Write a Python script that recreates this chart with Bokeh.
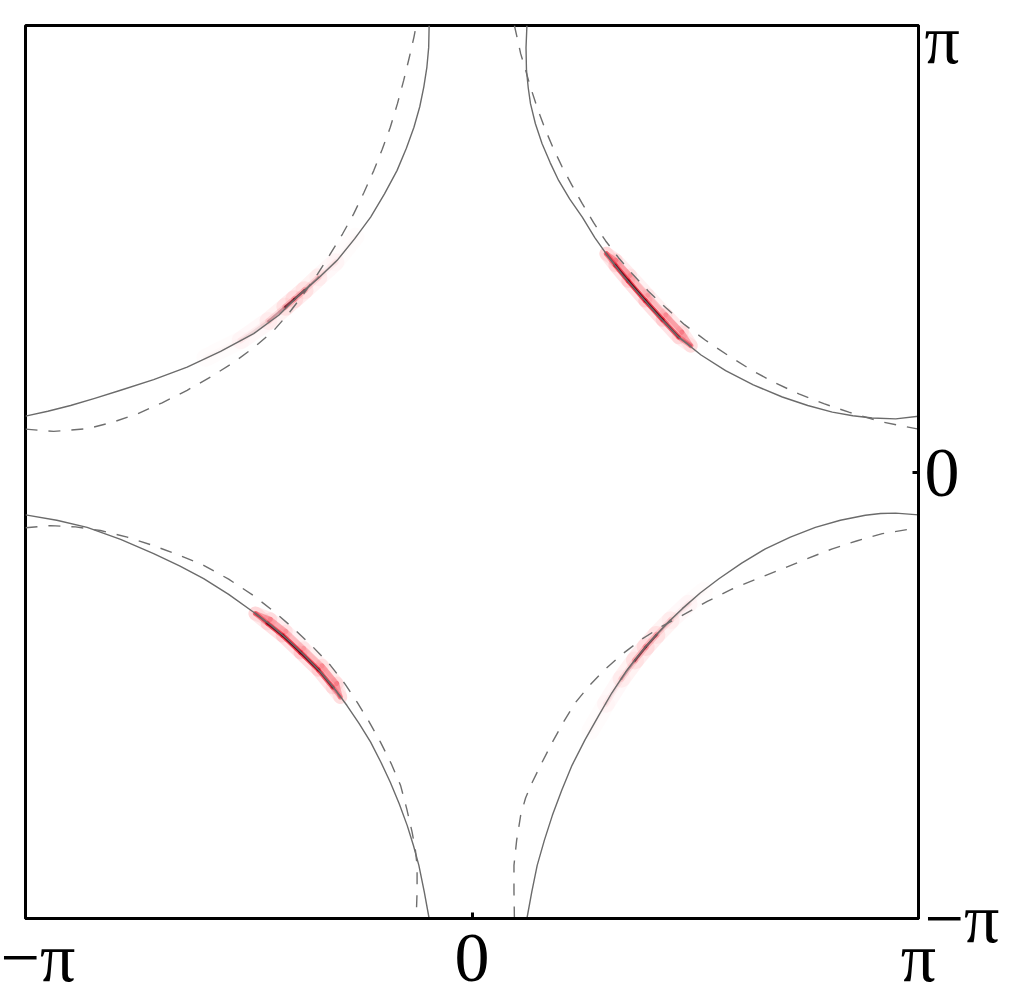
import numpy as np
from bokeh.plotting import figure
from bokeh.models import FixedTicker
from bokeh.embed import file_html
from bokeh.resources import INLINE

# all momenta in units of pi
tick_values = [-1, 0, 1]
tick_labels = ["\u2212\u03c0", "0", "\u03c0"]

# ---- solid Fermi-surface arcs ----
solid_ul_kx = [-1.000, -0.950, -0.899, -0.845, -0.787, -0.713, -0.638, -0.563, -0.489, -0.433, -0.384, -0.340,
               -0.302, -0.263, -0.227, -0.196, -0.168, -0.147, -0.130, -0.117, -0.108, -0.101, -0.097, -0.096]
solid_ul_ky = [0.125, 0.136, 0.149, 0.165, 0.183, 0.207, 0.235, 0.270, 0.310, 0.351, 0.399, 0.438,
               0.474, 0.522, 0.571, 0.623, 0.675, 0.725, 0.772, 0.818, 0.862, 0.907, 0.951, 1.000]

solid_ur_kx = [0.123, 0.121, 0.122, 0.126, 0.131, 0.142, 0.157, 0.175, 0.194, 0.219, 0.247, 0.275, 0.306,
               0.338, 0.374, 0.417, 0.463, 0.513, 0.568, 0.630, 0.695, 0.752, 0.807, 0.853, 0.896, 0.949, 1.000]
solid_ur_ky = [1.000, 0.950, 0.900, 0.860, 0.825, 0.780, 0.735, 0.693, 0.653, 0.611, 0.571, 0.525, 0.481,
               0.440, 0.399, 0.350, 0.302, 0.262, 0.227, 0.195, 0.168, 0.149, 0.134, 0.126, 0.121, 0.119, 0.125]

solid_ll_kx = [-1.000, -0.930, -0.862, -0.787, -0.713, -0.655, -0.601, -0.545, -0.489, -0.450, -0.414, -0.376, -0.339,
               -0.308, -0.280, -0.253, -0.227, -0.204, -0.183, -0.163, -0.145, -0.131, -0.119, -0.107, -0.096]
solid_ll_ky = [-0.096, -0.108, -0.124, -0.151, -0.183, -0.210, -0.239, -0.274, -0.314, -0.343, -0.374, -0.410, -0.448,
               -0.485, -0.523, -0.563, -0.605, -0.650, -0.695, -0.743, -0.792, -0.837, -0.881, -0.940, -1.000]

solid_lr_kx = [0.123, 0.134, 0.146, 0.162, 0.180, 0.201, 0.224, 0.253, 0.284, 0.313, 0.344, 0.374, 0.404,
               0.437, 0.471, 0.511, 0.553, 0.604, 0.657, 0.713, 0.769, 0.825, 0.881, 0.915, 0.949, 1.000]
solid_lr_ky = [-1.000, -0.940, -0.881, -0.825, -0.769, -0.713, -0.657, -0.600, -0.545, -0.495, -0.448, -0.409, -0.374,
               -0.339, -0.306, -0.271, -0.239, -0.204, -0.172, -0.146, -0.124, -0.108, -0.097, -0.093, -0.092, -0.096]

# ---- dashed arcs ----
dash_ul_kx = [-1.000, -0.937, -0.862, -0.806, -0.750, -0.694, -0.638, -0.585, -0.533, -0.487, -0.444, -0.409, -0.377,
              -0.346, -0.317, -0.290, -0.265, -0.242, -0.220, -0.201, -0.183, -0.167, -0.153, -0.141, -0.130, -0.125]
dash_ul_ky = [0.096, 0.091, 0.097, 0.111, 0.130, 0.155, 0.183, 0.213, 0.246, 0.280, 0.317, 0.357, 0.399,
              0.443, 0.489, 0.533, 0.578, 0.626, 0.675, 0.723, 0.772, 0.825, 0.877, 0.926, 0.974, 1.000]

dash_ur_kx = [0.095, 0.109, 0.120, 0.131, 0.147, 0.165, 0.183, 0.202, 0.224, 0.247, 0.272, 0.299, 0.328,
              0.359, 0.395, 0.433, 0.476, 0.523, 0.575, 0.628, 0.680, 0.732, 0.788, 0.844, 0.919, 1.000]
dash_ur_ky = [1.000, 0.937, 0.900, 0.862, 0.813, 0.765, 0.723, 0.683, 0.642, 0.601, 0.559, 0.518, 0.480,
              0.444, 0.405, 0.369, 0.330, 0.295, 0.260, 0.227, 0.199, 0.175, 0.153, 0.134, 0.112, 0.096]

dash_ll_kx = [-1.000, -0.944, -0.888, -0.832, -0.772, -0.713, -0.657, -0.601, -0.545, -0.489, -0.443, -0.399, -0.357,
              -0.317, -0.285, -0.257, -0.230, -0.205, -0.181, -0.160, -0.146, -0.134, -0.127, -0.123, -0.123, -0.125]
dash_ll_ky = [-0.125, -0.120, -0.123, -0.131, -0.146, -0.165, -0.186, -0.209, -0.240, -0.277, -0.313, -0.351, -0.391,
              -0.433, -0.474, -0.516, -0.560, -0.605, -0.653, -0.702, -0.755, -0.807, -0.845, -0.881, -0.940, -1.000]

dash_lr_kx = [0.095, 0.094, 0.094, 0.100, 0.109, 0.120, 0.135, 0.157, 0.180, 0.205, 0.232, 0.264, 0.299,
              0.339, 0.381, 0.425, 0.471, 0.527, 0.583, 0.639, 0.695, 0.751, 0.807, 0.863, 0.919, 1.000]
dash_lr_ky = [-1.000, -0.940, -0.881, -0.825, -0.769, -0.730, -0.695, -0.650, -0.605, -0.560, -0.516, -0.477, -0.441,
              -0.406, -0.374, -0.346, -0.321, -0.290, -0.262, -0.239, -0.217, -0.194, -0.172, -0.154, -0.138, -0.125]

# ---- spectral weight (red) along the arcs ----
red_ur_kx = [0.301, 0.321, 0.350, 0.388, 0.427, 0.463, 0.490]
red_ur_ky = [0.489, 0.463, 0.428, 0.384, 0.341, 0.302, 0.283]
red_ur_w = [0.50, 0.90, 1.00, 1.00, 0.95, 0.75, 0.35]
red_ur_edge_kx = [0.301, 0.322, 0.354, 0.394, 0.434, 0.470, 0.490]
red_ur_edge_ky = [0.489, 0.474, 0.440, 0.396, 0.352, 0.313, 0.283]
red_ur_edge_w = [0.60, 0.70, 0.45, 0.35, 0.45, 0.75, 0.40]

red_ll_kx = [-0.485, -0.458, -0.424, -0.384, -0.344, -0.312, -0.295]
red_ll_ky = [-0.317, -0.339, -0.366, -0.404, -0.443, -0.482, -0.504]
red_ll_w = [0.50, 0.90, 1.00, 1.00, 0.95, 0.75, 0.35]
red_ll_edge_kx = [-0.485, -0.452, -0.417, -0.377, -0.336, -0.303, -0.295]
red_ll_edge_ky = [-0.317, -0.330, -0.357, -0.395, -0.434, -0.474, -0.504]
red_ll_edge_w = [0.60, 0.65, 0.40, 0.35, 0.45, 0.75, 0.40]

red_ul_kx = [-0.597, -0.518, -0.456, -0.418, -0.398, -0.375, -0.344, -0.306, -0.261]
red_ul_ky = [0.256, 0.295, 0.338, 0.370, 0.387, 0.407, 0.436, 0.470, 0.527]
red_ul_w = [0.08, 0.20, 0.40, 0.70, 1.00, 0.70, 0.40, 0.20, 0.08]

red_lr_kx = [0.265, 0.300, 0.335, 0.365, 0.389, 0.413, 0.445, 0.485, 0.520]
red_lr_ky = [-0.580, -0.519, -0.463, -0.422, -0.392, -0.365, -0.332, -0.295, -0.266]
red_lr_w = [0.08, 0.20, 0.40, 0.70, 1.00, 0.70, 0.40, 0.20, 0.08]

FONT = "Liberation Serif"

p = figure(frame_width=893, frame_height=893, x_range=(-1, 1), y_range=(-1, 1),
           x_axis_location="below", y_axis_location="right",
           toolbar_location=None, output_backend="svg",
           min_border=0, min_border_left=25, min_border_top=25)
p.background_fill_color = "white"
p.border_fill_color = "white"
p.grid.visible = False
p.outline_line_color = "black"
p.outline_line_width = 3
p.outline_line_alpha = 1.0

for ax in (p.xaxis[0], p.yaxis[0]):
    ax.ticker = FixedTicker(ticks=tick_values)
    ax.major_label_overrides = {v: s for v, s in zip(tick_values, tick_labels)}
    ax.major_label_text_font = FONT
    ax.major_label_text_font_size = "70px"
    ax.major_label_text_color = "black"
    ax.axis_line_color = "black"
    ax.axis_line_width = 3
    ax.major_tick_in = 6
    ax.major_tick_out = 0
    ax.major_tick_line_width = 3
    ax.major_tick_line_color = "black"
    ax.minor_tick_line_color = None
p.xaxis[0].major_label_standoff = 0
p.yaxis[0].major_label_standoff = 6


def red_band(kx, ky, w, halo_w, halo_a, mid_w, mid_a, core_w, core_a):
    kx = np.asarray(kx); ky = np.asarray(ky); w = np.asarray(w)
    sw = 0.5 * (w[:-1] + w[1:])
    x0, y0, x1, y1 = list(kx[:-1]), list(ky[:-1]), list(kx[1:]), list(ky[1:])
    if halo_a > 0:
        p.segment(x0, y0, x1, y1, line_color="#ff8f96", line_width=halo_w,
                  line_alpha=list(halo_a * sw), line_cap="round")
    if mid_a > 0:
        p.segment(x0, y0, x1, y1, line_color="#ee2a3c", line_width=mid_w,
                  line_alpha=list(mid_a * sw ** 1.5), line_cap="round")
    if core_a > 0:
        p.segment(x0, y0, x1, y1, line_color="#5a0010", line_width=core_w,
                  line_alpha=list(core_a * sw ** 2), line_cap="round")


# red spectral weight below the contour lines
red_band(red_ur_edge_kx, red_ur_edge_ky, red_ur_edge_w, 14, 0.3, 5, 0.8, 0, 0)
red_band(red_ll_edge_kx, red_ll_edge_ky, red_ll_edge_w, 14, 0.3, 5, 0.8, 0, 0)
red_band(red_ur_kx, red_ur_ky, red_ur_w, 14, 0.28, 5, 0.85, 2.5, 0.9)
red_band(red_ll_kx, red_ll_ky, red_ll_w, 14, 0.28, 5, 0.85, 2.5, 0.9)
red_band(red_ul_kx, red_ul_ky, red_ul_w, 18, 0.2, 6, 0.3, 2.5, 0.95)
red_band(red_lr_kx, red_lr_ky, red_lr_w, 18, 0.2, 6, 0.3, 2.5, 0.95)

SOLID = "#6b6b6b"
DASH = "#6e6e6e"
for xs, ys in [(solid_ul_kx, solid_ul_ky), (solid_ur_kx, solid_ur_ky),
               (solid_ll_kx, solid_ll_ky), (solid_lr_kx, solid_lr_ky)]:
    p.line(xs, ys, line_color=SOLID, line_width=1.4, line_join="round")
for xs, ys in [(dash_ul_kx, dash_ul_ky), (dash_ur_kx, dash_ur_ky),
               (dash_ll_kx, dash_ll_ky), (dash_lr_kx, dash_lr_ky)]:
    p.line(xs, ys, line_color=DASH, line_width=1.4, line_dash="12 11", line_join="round")

open("out.html", "w").write(file_html(p, INLINE))
